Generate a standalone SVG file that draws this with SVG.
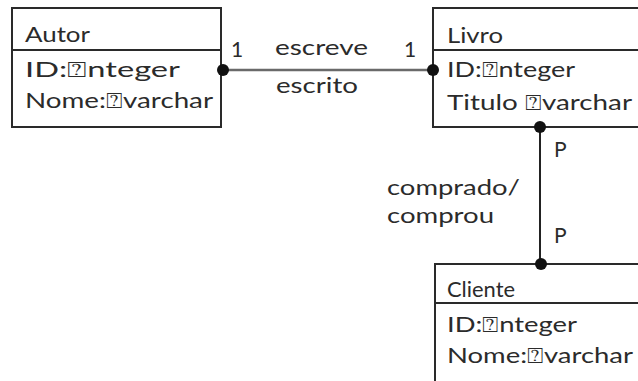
<svg xmlns="http://www.w3.org/2000/svg" width="638" height="381" viewBox="0 0 638 381">
<style>
.box{fill:#fff;stroke:#2a2a2a;stroke-width:2}
.div{stroke:#2a2a2a;stroke-width:2}
text{font-family:Lato,"Open Sans","DejaVu Sans",sans-serif;font-size:21px;fill:#2b2b2b}
.dot{fill:#111}
</style>
<rect width="638" height="381" fill="#fff"/>
<g id="autor">
<rect class="box" x="12" y="8" width="209" height="119"/>
<line class="div" x1="12" y1="50" x2="221" y2="50"/>
<text x="25" y="42" textLength="65" lengthAdjust="spacingAndGlyphs">Autor</text>
<text x="25" y="77" textLength="155" lengthAdjust="spacingAndGlyphs">ID:⍰nteger</text>
<text x="25" y="108" textLength="188" lengthAdjust="spacingAndGlyphs">Nome:⍰varchar</text>
</g>
<g id="livro">
<rect class="box" x="433" y="8" width="215" height="119"/>
<line class="div" x1="433" y1="50" x2="648" y2="50"/>
<text x="447" y="43" textLength="56" lengthAdjust="spacingAndGlyphs">Livro</text>
<text x="447" y="77" textLength="128" lengthAdjust="spacingAndGlyphs">ID:⍰nteger</text>
<text x="447" y="110" textLength="185" lengthAdjust="spacingAndGlyphs">Titulo ⍰varchar</text>
</g>
<g id="cliente">
<rect class="box" x="435" y="264" width="213" height="130"/>
<line class="div" x1="435" y1="303" x2="648" y2="303"/>
<text x="447" y="297" textLength="68" lengthAdjust="spacingAndGlyphs">Cliente</text>
<text x="447" y="332" textLength="130" lengthAdjust="spacingAndGlyphs">ID:⍰nteger</text>
<text x="447" y="363" textLength="186" lengthAdjust="spacingAndGlyphs">Nome:⍰varchar</text>
</g>
<g id="connectors">
<line x1="223" y1="70" x2="433" y2="70" stroke="#6a6a6a" stroke-width="2.5"/>
<circle class="dot" cx="223" cy="70" r="6"/>
<circle class="dot" cx="433" cy="70" r="6"/>
<text x="231" y="57">1</text>
<text x="275" y="55" textLength="93" lengthAdjust="spacingAndGlyphs">escreve</text>
<text x="404" y="57">1</text>
<text x="276" y="93" textLength="82" lengthAdjust="spacingAndGlyphs">escrito</text>
<line x1="540" y1="127" x2="540" y2="264" stroke="#222" stroke-width="2"/>
<circle class="dot" cx="540" cy="127" r="6"/>
<circle class="dot" cx="541" cy="264" r="6"/>
<text x="554" y="157">P</text>
<text x="387" y="195" textLength="133" lengthAdjust="spacingAndGlyphs">comprado/</text>
<text x="387" y="223" textLength="107" lengthAdjust="spacingAndGlyphs">comprou</text>
<text x="554" y="243">P</text>
</g>
</svg>
